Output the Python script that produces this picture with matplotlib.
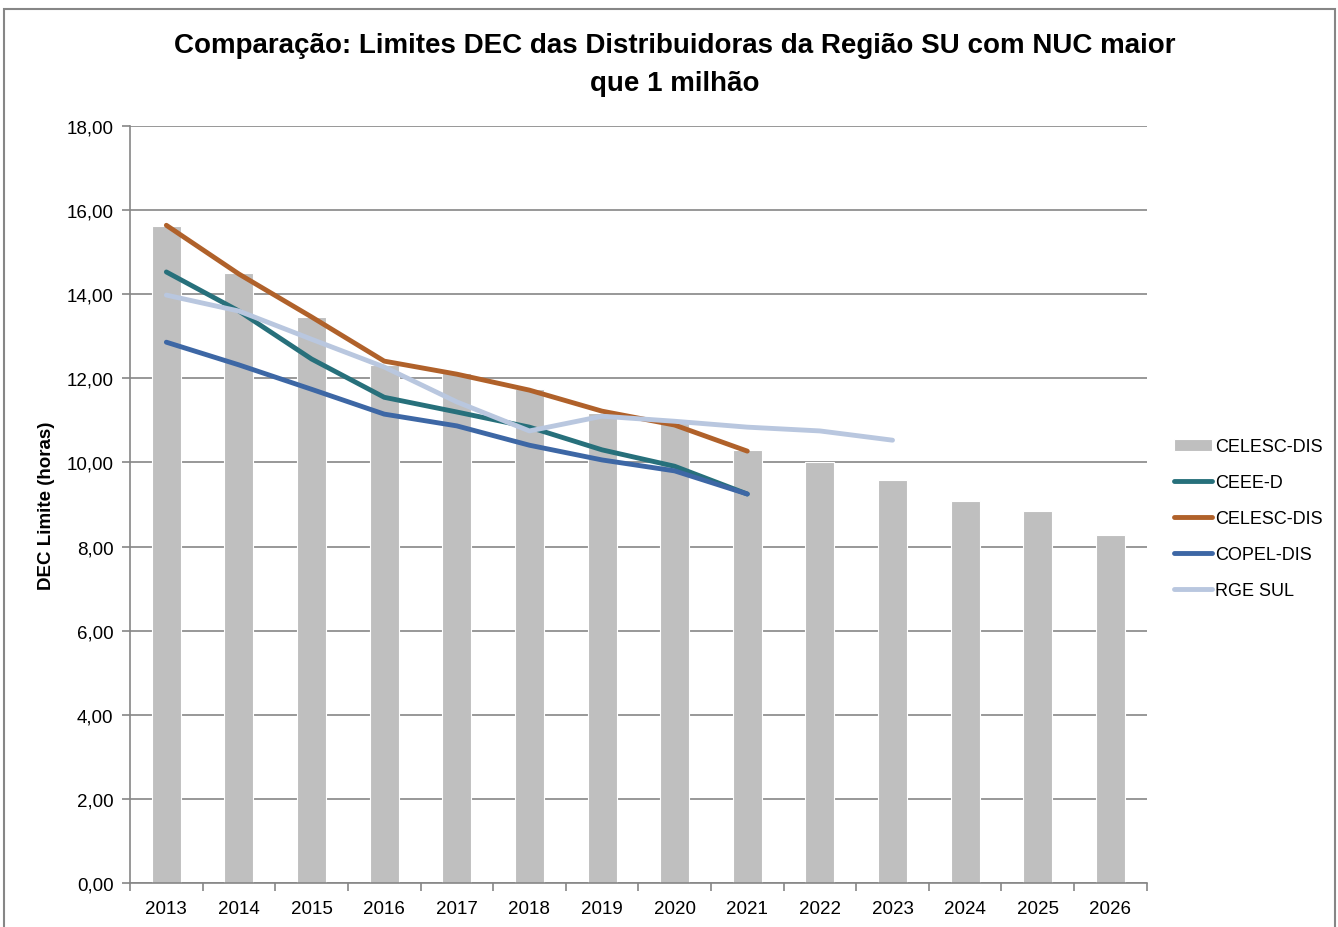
import matplotlib.pyplot as plt
import matplotlib.patches as mpatches
import numpy as np

plt.rcParams['font.family'] = ['Liberation Sans Narrow', 'Liberation Sans', 'DejaVu Sans']

years = [2013, 2014, 2015, 2016, 2017, 2018, 2019, 2020, 2021, 2022, 2023, 2024, 2025, 2026]
celesc_bars = [15.62, 14.50, 13.46, 12.32, 12.13, 11.75, 11.17, 10.94, 10.30, 10.01, 9.58, 9.08, 8.84, 8.27]

ceee_d = [14.53, 13.60, 12.46, 11.55, 11.20, 10.84, 10.30, 9.91, 9.25]
celesc_dis = [15.64, 14.48, 13.46, 12.41, 12.10, 11.72, 11.22, 10.89, 10.27]
copel_dis = [12.86, 12.32, 11.74, 11.15, 10.87, 10.41, 10.06, 9.80, 9.25]
rge_sul = [13.98, 13.60, 12.93, 12.27, 11.44, 10.75, 11.10, 10.98, 10.84, 10.75, 10.53]

fig = plt.figure(figsize=(13.38, 9.28), dpi=100)
ax = fig.add_axes([0.0972, 0.0474, 0.7598, 0.8157])

x = np.arange(len(years))
bars = ax.bar(x, celesc_bars, width=0.4, color='#BFBFBF', edgecolor='white', linewidth=0.8,
              label='CELESC-DIS', zorder=2)
lines = []
for vals, col, lab in [(ceee_d, '#27707B', 'CEEE-D'),
                       (celesc_dis, '#B0612A', 'CELESC-DIS'),
                       (copel_dis, '#3D67A5', 'COPEL-DIS'),
                       (rge_sul, '#B9C7DF', 'RGE SUL')]:
    ln, = ax.plot(x[:len(vals)], vals, color=col, lw=3.5, label=lab, zorder=3,
                  solid_capstyle='round')
    lines.append(ln)

ax.set_xlim(-0.5, len(years) - 0.5)
ax.set_ylim(0, 18)
yt = np.arange(0, 18.1, 2)
ax.set_yticks(yt)
ax.set_yticklabels([f'{v:.2f}'.replace('.', ',') for v in yt], fontsize=13.5)
ax.set_xticks(x)
ax.set_xticklabels([str(y) for y in years], fontsize=13.5)
ax.set_xticks(np.arange(-0.5, len(years), 1), minor=True)
ax.tick_params(axis='x', which='major', length=0, pad=12)
ax.tick_params(axis='x', which='minor', length=6, color='#868686', width=1.2)
ax.tick_params(axis='y', length=6, color='#868686', width=1.2, direction='out', pad=6)

ax.grid(axis='y', color='#868686', lw=1.2, zorder=0)
ax.set_axisbelow(True)
for s in ['top', 'right']:
    ax.spines[s].set_visible(False)
for s in ['left', 'bottom']:
    ax.spines[s].set_color('#868686')
    ax.spines[s].set_linewidth(1.2)

ax.set_ylabel('DEC Limite (horas)', fontsize=13.5, fontweight='bold', labelpad=8)

fig.text(0.504, 0.930, 'Comparação: Limites DEC das Distribuidoras da Região SU com NUC maior\nque 1 milhão',
         ha='center', va='center', fontsize=20, fontweight='bold', linespacing=1.6)

ax.legend([bars] + lines, ['CELESC-DIS', 'CEEE-D', 'CELESC-DIS', 'COPEL-DIS', 'RGE SUL'],
          loc='center left', bbox_to_anchor=(1.027, 0.481), frameon=False, fontsize=13,
          handlelength=2.1, handletextpad=0.15, labelspacing=1.05, borderaxespad=0,
          borderpad=0)

fig.patches.append(mpatches.Rectangle((0.003, -0.01), 0.995, 0.999, transform=fig.transFigure,
                                      fill=False, edgecolor='#868686', lw=1.5))

fig.savefig('out.png', dpi=100)
